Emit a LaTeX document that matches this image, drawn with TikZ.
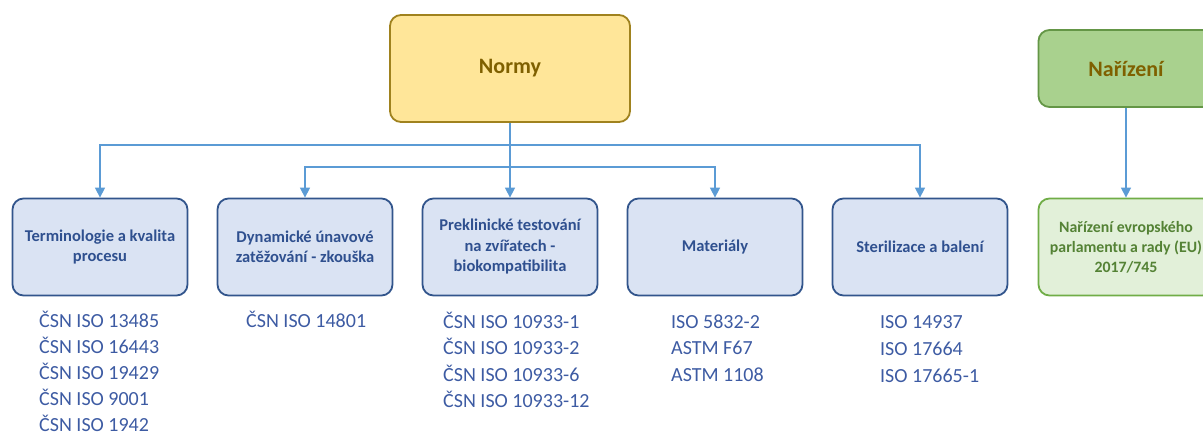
\documentclass[tikz,border=0pt]{standalone}
\usepackage{fontspec}
\setmainfont{Carlito}
\usetikzlibrary{arrows.meta}
\definecolor{titleblue}{RGB}{47,80,143}
\definecolor{listblue}{RGB}{61,91,163}
\definecolor{bfill}{RGB}{218,227,243}
\definecolor{bdraw}{RGB}{50,85,140}
\definecolor{arrowc}{RGB}{91,155,213}
\definecolor{yfill}{RGB}{255,230,153}
\definecolor{ydraw}{RGB}{160,130,30}
\definecolor{ytext}{RGB}{127,96,0}
\definecolor{gfill}{RGB}{169,209,142}
\definecolor{gdraw}{RGB}{100,150,70}
\definecolor{lgfill}{RGB}{226,240,217}
\definecolor{lgdraw}{RGB}{112,173,71}
\definecolor{lgtext}{RGB}{84,130,53}
\tikzset{
  topbox/.style={draw, line width=1.8pt, rounded corners=11pt, align=center, inner sep=0pt,
    font=\fontsize{22}{26}\selectfont\bfseries, text=ytext},
  catbox/.style={draw=bdraw, fill=bfill, line width=1.8pt, rounded corners=11pt, align=center,
    minimum width=175pt, minimum height=97pt, inner sep=0pt,
    font=\fontsize{16.5}{20.5}\selectfont\bfseries, text=titleblue},
  regbox/.style={catbox, draw=lgdraw, fill=lgfill, text=lgtext, font=\fontsize{15.8}{20}\selectfont\bfseries},
  conn/.style={draw=arrowc, line width=1.5pt, -{Triangle[width=10pt,length=10pt]}},
  item/.style={anchor=base west, inner sep=0pt, text=listblue, font=\fontsize{20}{24}\selectfont}
}
\begin{document}
\begin{tikzpicture}[x=1pt,y=-1pt]
\useasboundingbox (0,0) rectangle (1203,435);
\clip (0,0) rectangle (1203,435);
\node[topbox, draw=ydraw, fill=yfill, minimum width=240pt, minimum height=107pt] (normy) at (510,68.5) {\raisebox{-2pt}{Normy}};
\node[topbox, draw=gdraw, fill=gfill, minimum width=175pt, minimum height=77pt] (nar) at (1126,68.5) {\raisebox{-1pt}{Nařízení}};

\node[catbox] (b1) at (100,247) {Terminologie a kvalita\\procesu};
\node[catbox] (b2) at (305,247) {Dynamické únavové\\zatěžování - zkouška};
\node[catbox] (b3) at (510,247) {Preklinické testování\\na zvířatech -\\biokompatibilita};
\node[catbox] (b4) at (715,247) {Materiály};
\node[catbox] (b5) at (920,247) {Sterilizace a balení};
\node[regbox] (g) at (1126,247) {Nařízení evropského\\parlamentu a rady (EU)\\2017/745};

\coordinate (j1) at (510,145);
\coordinate (j2) at (510,167);
\draw[conn] (normy.south) -- (b3.north);
\draw[conn] (j1) -| (b1.north);
\draw[conn] (j1) -| (b5.north);
\draw[conn] (j2) -| (b2.north);
\draw[conn] (j2) -| (b4.north);
\draw[conn] (nar.south) -- (g.north);

\foreach \t [count=\i] in {ČSN ISO 13485, ČSN ISO 16443, ČSN ISO 19429, ČSN ISO 9001, ČSN ISO 1942}
  \node[item] (la-\i) at (39,{327.5+26*(\i-1)}) {\t};
\node[item] (lb-1) at (246,328) {ČSN ISO 14801};
\foreach \t [count=\i] in {ČSN ISO 10933-1, ČSN ISO 10933-2, ČSN ISO 10933-6, ČSN ISO 10933-12}
  \node[item] (lc-\i) at (443,{328.5+26.5*(\i-1)}) {\t};
\foreach \t [count=\i] in {ISO 5832-2, ASTM F67, ASTM 1108}
  \node[item] (ld-\i) at (671,{328.5+26.5*(\i-1)}) {\t};
\foreach \t [count=\i] in {ISO 14937, ISO 17664, ISO 17665-1}
  \node[item] (le-\i) at (880,{329+27*(\i-1)}) {\t};
\end{tikzpicture}
\end{document}
